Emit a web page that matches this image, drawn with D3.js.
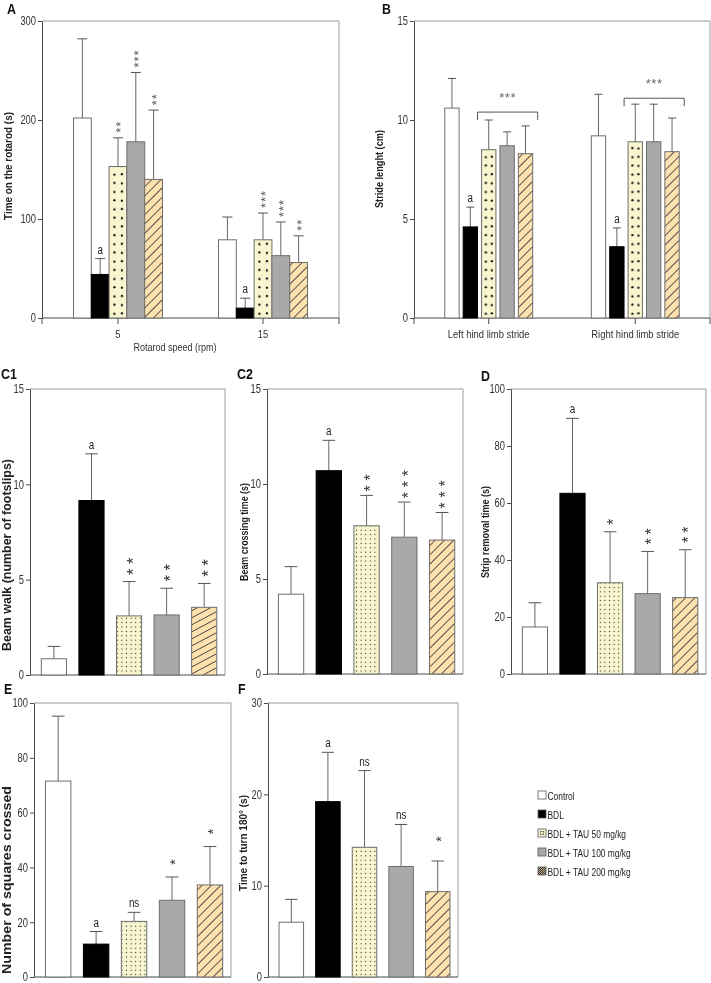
<!DOCTYPE html>
<html><head><meta charset="utf-8">
<script src="https://cdn.jsdelivr.net/npm/d3@7"></script>
<style>
body{margin:0;background:#fff}
svg{display:block;will-change:transform}
text{font-family:"Liberation Sans",Arial,sans-serif;}
</style>
</head><body>
<svg id="c" width="711" height="983"></svg>
<script>
// ---------------- DATA ----------------
const groupNames = ["Control", "BDL", "BDL + TAU 50 mg/kg", "BDL + TAU 100 mg/kg", "BDL + TAU 200 mg/kg"];

// A: rotarod
const rotarodSpeeds = ["5", "15"];
const rotarodMean = [[202, 44, 153, 178, 140], [79, 10, 79, 63, 56]];
const rotarodErr  = [[80, 16, 29, 70, 70], [23, 10, 27, 34, 27]];
const rotarodMarks = [["", "a", "**", "***", "**"], ["", "a", "***", "***", "**"]];
const rotarodTicks = [0, 100, 200, 300];

// B: stride length
const strideLimbs = ["Left hind limb stride", "Right hind limb stride"];
const strideMean = [[10.6, 4.6, 8.5, 8.7, 8.3], [9.2, 3.6, 8.9, 8.9, 8.4]];
const strideErr  = [[1.5, 1.0, 1.5, 0.7, 1.4], [2.1, 0.95, 1.9, 1.9, 1.7]];
const strideMarks = [["", "a", "", "", ""], ["", "a", "", "", ""]];
const strideBracketLevel = [10.4, 11.1];
const strideBracketLabel = ["***", "***"];
const strideTicks = [0, 5, 10, 15];

// C1: beam walk footslips
const footslipMean = [0.85, 9.15, 3.1, 3.15, 3.55];
const footslipErr  = [0.65, 2.45, 1.8, 1.4, 1.25];
const footslipMarks = ["", "a", "**", "**", "**"];
const footslipTicks = [0, 5, 10, 15];

// C2: beam crossing time
const crossingMean = [4.2, 10.7, 7.8, 7.2, 7.05];
const crossingErr  = [1.45, 1.6, 1.6, 1.85, 1.45];
const crossingMarks = ["", "a", "**", "***", "***"];
const crossingTicks = [0, 5, 10, 15];

// D: strip removal time
const stripMean = [16.5, 63.4, 32, 28.2, 26.8];
const stripErr  = [8.5, 26.3, 17.9, 14.8, 16.8];
const stripMarks = ["", "a", "*", "**", "**"];
const stripTicks = [0, 20, 40, 60, 80, 100];

// E: squares crossed
const squaresMean = [71.5, 12, 20.3, 28, 33.6];
const squaresErr  = [23.7, 4.6, 3.3, 8.5, 14];
const squaresMarks = ["", "a", "ns", "*", "*"];
const squaresTicks = [0, 20, 40, 60, 80, 100];

// F: time to turn 180°
const turnMean = [6, 19.2, 14.2, 12.1, 9.35];
const turnErr  = [2.5, 5.4, 8.4, 4.6, 3.35];
const turnMarks = ["", "a", "ns", "ns", "*"];
const turnTicks = [0, 10, 20, 30];

// ---------------- STYLE ----------------
const axisCol = "#4a4a4a", frameCol = "#9a9a9a", textCol = "#333";
const yellow = "#f8f5cf", grey = "#a9a9a9", orange = "#fde2b0";
const COND = 0.8;

const svg = d3.select("#c");
const defs = svg.append("defs");

// horizontally condense a text (Myriad-condensed look)
function cond(sel, f) {
  sel.each(function () {
    const L = this.getComputedTextLength();
    this.setAttribute("textLength", (L * (f || COND)).toFixed(2));
    this.setAttribute("lengthAdjust", "spacingAndGlyphs");
  });
  return sel;
}

// small dots pattern
const sd = defs.append("pattern").attr("id", "smallDots").attr("patternUnits", "userSpaceOnUse")
  .attr("width", 4.6).attr("height", 4.4);
sd.append("rect").attr("width", 4.6).attr("height", 4.4).attr("fill", yellow);
sd.append("circle").attr("cx", 2.3).attr("cy", 2.2).attr("r", 0.6).attr("fill", "#222");

function hatch(id, angle, gap) {
  const p = defs.append("pattern").attr("id", id).attr("patternUnits", "userSpaceOnUse")
    .attr("width", gap).attr("height", gap).attr("patternTransform", `rotate(${angle})`);
  p.append("rect").attr("width", gap).attr("height", gap).attr("fill", orange);
  p.append("line").attr("x1", gap / 2).attr("x2", gap / 2).attr("y1", 0).attr("y2", gap)
    .attr("stroke", "#333").attr("stroke-width", 0.8);
}
hatch("hatch45", 45, 6.6);
hatch("hatchLow", 62, 6.2);

// checker for legend swatch
const ck = defs.append("pattern").attr("id", "checker").attr("patternUnits", "userSpaceOnUse")
  .attr("width", 2).attr("height", 2);
ck.append("rect").attr("width", 2).attr("height", 2).attr("fill", "#cdb68a");
ck.append("rect").attr("width", 1).attr("height", 1).attr("fill", "#2a2a2a");
ck.append("rect").attr("x", 1).attr("y", 1).attr("width", 1).attr("height", 1).attr("fill", "#2a2a2a");

let bigDotCount = 0;
function bigDots(x, w, yBase) {
  const id = "bigDots" + (bigDotCount++);
  const p = defs.append("pattern").attr("id", id).attr("patternUnits", "userSpaceOnUse")
    .attr("x", x).attr("y", yBase).attr("width", w).attr("height", 17.4);
  p.append("rect").attr("width", w).attr("height", 17.4).attr("fill", yellow);
  [[0.3, 4], [0.72, 12.7], [0.3, 13.2], [0.72, 4.5]].forEach(d =>
    p.append("circle").attr("cx", w * d[0]).attr("cy", d[1]).attr("r", 1.15).attr("fill", "#111"));
  return `url(#${id})`;
}

function frame(g, x0, x1, y0, y1) {
  g.append("line").attr("x1", x0).attr("x2", x1).attr("y1", y1).attr("y2", y1).attr("stroke", frameCol);
  g.append("line").attr("x1", x1).attr("x2", x1).attr("y1", y1).attr("y2", y0).attr("stroke", frameCol);
  g.append("line").attr("x1", x0).attr("x2", x1).attr("y1", y0).attr("y2", y0).attr("stroke", axisCol);
}

function yAxis(g, y, x0, ticks) {
  const ax = g.append("g").attr("transform", `translate(${x0},0)`)
    .call(d3.axisLeft(y).tickValues(ticks).tickSize(4).tickSizeOuter(0).tickPadding(2));
  ax.select(".domain").attr("stroke", axisCol);
  ax.selectAll(".tick line").attr("stroke", axisCol);
  ax.selectAll(".tick text").attr("font-size", 12).attr("fill", textCol)
    .style("font-family", '"Liberation Sans",Arial,sans-serif');
  cond(ax.selectAll(".tick text"), 0.78);
}

function title(t, x, y) {
  const s = svg.append("text").attr("x", x).attr("y", y).attr("font-size", 15.5).attr("font-weight", "bold")
    .attr("fill", "#111").text(t);
  cond(s, 0.8);
}
function ylabel(t, x, yc, len, fs) {
  svg.append("text").attr("transform", `translate(${x},${yc}) rotate(-90)`).attr("text-anchor", "middle")
    .attr("dy", "0.36em").attr("font-size", fs).attr("font-weight", "bold").attr("fill", "#222")
    .attr("textLength", len).attr("lengthAdjust", "spacingAndGlyphs").text(t);
}

// vertical stack of asterisks drawn as one rotated text; lowest star centred at (cx, yc)
function stars(g, cx, yc, n, fs, spacing, col) {
  const adv = 0.389 * fs;
  g.append("text")
    .attr("transform", `translate(${cx + 0.575 * fs},${yc + adv / 2}) rotate(-90)`)
    .attr("font-size", fs).attr("fill", col || "#333")
    .attr("letter-spacing", spacing - adv).text("*".repeat(n));
}
function mark(g, m, cx, capY, o) {
  if (!m) return;
  if (m[0] === "*") stars(g, cx, capY - o.gap, m.length, o.fs, o.sp, o.col);
  else cond(g.append("text").attr("x", cx).attr("y", capY - 5).attr("text-anchor", "middle")
    .attr("font-size", 12).attr("fill", "#222").text(m), 0.82);
}

function bar(g, i, x, w, y, yv, ev, y0, fill, capW) {
  const top = y(yv), cap = y(yv + ev);
  g.append("line").attr("x1", x + w / 2).attr("x2", x + w / 2).attr("y1", top).attr("y2", cap)
    .attr("stroke", "#666");
  g.append("line").attr("x1", x + w / 2 - capW / 2).attr("x2", x + w / 2 + capW / 2)
    .attr("y1", cap).attr("y2", cap).attr("stroke", "#555");
  g.append("rect").attr("x", x).attr("y", top).attr("width", w).attr("height", y0 - top)
    .attr("fill", fill).attr("stroke", i === 1 ? "#000" : "#6e6e6e").attr("stroke-width", 1);
  return cap;
}

// ---------------- GROUPED PANELS (A, B) ----------------
function groupedPanel(o) {
  const g = svg.append("g");
  const y = d3.scaleLinear().domain([0, o.max]).range([o.y0, o.y1]);
  const xo = d3.scaleBand().domain(o.cats).range([o.x0, o.x1]).paddingInner(o.pi).paddingOuter(o.po);
  const xi = d3.scaleBand().domain(d3.range(5)).range([0, xo.bandwidth()]).paddingInner(o.inner);
  frame(g, o.x0, o.x1, o.y0, o.y1);
  const xt = [o.x0, o.x1].concat(o.cats.map(c => xo(c) + xo.bandwidth() / 2));
  xt.forEach(v => g.append("line").attr("x1", v).attr("x2", v).attr("y1", o.y0).attr("y2", o.y0 + 6).attr("stroke", axisCol));
  o.cats.forEach(c => cond(g.append("text").attr("x", xo(c) + xo.bandwidth() / 2).attr("y", o.y0 + 20)
    .attr("text-anchor", "middle").attr("font-size", 11.5).attr("fill", textCol).text(c), 0.82));
  yAxis(g, y, o.x0, o.ticks);
  o.cats.forEach((c, ci) => {
    d3.range(5).forEach(i => {
      const x = xo(c) + xi(i), w = xi.bandwidth();
      const fill = ["#fff", "#000", bigDots(x, w, o.y0), grey, "url(#hatch45)"][i];
      const cap = bar(g, i, x, w, y, o.mean[ci][i], o.err[ci][i], o.y0, fill, o.capW);
      mark(g, o.marks[ci][i], x + w / 2, cap, { gap: 7.5, fs: 13, sp: 6, col: "#555" });
    });
    if (o.bracket) {
      const bx0 = xo(c) + xi(2) - 4, bx1 = xo(c) + xi(4) + xi.bandwidth() + 5, by = y(o.bracket[ci]);
      g.append("path").attr("d", `M${bx0},${by + 8}V${by}H${bx1}V${by + 8}`).attr("fill", "none").attr("stroke", "#555");
      g.append("text").attr("x", (bx0 + bx1) / 2).attr("y", by - 10).attr("text-anchor", "middle")
        .attr("font-size", 13).attr("fill", "#666").attr("letter-spacing", 0.6).text(o.bracketLabel[ci]);
    }
  });
}

groupedPanel({ cats: rotarodSpeeds, mean: rotarodMean, err: rotarodErr, marks: rotarodMarks, ticks: rotarodTicks,
  max: 300, x0: 42, x1: 339, y0: 318, y1: 21, pi: 0.386, po: 0.217, inner: 0, capW: 10 });
title("A", 7, 14);
ylabel("Time on the rotarod (s)", 8, 166, 108, 11.5);
cond(svg.append("text").attr("x", 175).attr("y", 351).attr("text-anchor", "middle").attr("font-size", 11)
  .attr("fill", textCol).text("Rotarod speed (rpm)"), 0.82);

groupedPanel({ cats: strideLimbs, mean: strideMean, err: strideErr, marks: strideMarks, ticks: strideTicks,
  max: 15, x0: 414, x1: 710, y0: 318, y1: 21, pi: 0.4, po: 0.21, inner: 0.22, capW: 8,
  bracket: strideBracketLevel, bracketLabel: strideBracketLabel });
title("B", 382, 14);
ylabel("Stride lenght (cm)", 379, 169, 78, 11.5);

// ---------------- SIMPLE PANELS ----------------
function simplePanel(o) {
  const g = svg.append("g");
  const y = d3.scaleLinear().domain([0, o.max]).range([o.y0, o.y1]);
  const x = d3.scaleBand().domain(groupNames).range([o.x0, o.x1]).paddingInner(0.33).paddingOuter(0.26).align(0.58);
  frame(g, o.x0, o.x1, o.y0, o.y1);
  yAxis(g, y, o.x0, o.ticks);
  const fills = ["#fff", "#000", "url(#smallDots)", grey, `url(#${o.hatch || "hatch45"})`];
  groupNames.forEach((n, i) => {
    const w = x.bandwidth();
    const cap = bar(g, i, x(n), w, y, o.mean[i], o.err[i], o.y0, fills[i], w * 0.5);
    mark(g, o.marks[i], x(n) + w / 2, cap, { gap: o.gap, fs: o.fs, sp: o.sp, col: "#333" });
  });
}

simplePanel({ mean: footslipMean, err: footslipErr, marks: footslipMarks, ticks: footslipTicks, max: 15,
  x0: 30, x1: 225, y0: 675, y1: 389, gap: 10, fs: 17, sp: 11, hatch: "hatchLow" });
title("C1", 1, 379);
ylabel("Beam walk (number of footslips)", 7, 555, 192, 12);

simplePanel({ mean: crossingMean, err: crossingErr, marks: crossingMarks, ticks: crossingTicks, max: 15,
  x0: 267, x1: 463, y0: 674, y1: 389, gap: 7, fs: 16, sp: 11 });
title("C2", 237, 379);
ylabel("Beam crossing time (s)", 244, 532, 98, 11.5);

simplePanel({ mean: stripMean, err: stripErr, marks: stripMarks, ticks: stripTicks, max: 100,
  x0: 511, x1: 706, y0: 674, y1: 389, gap: 10, fs: 16, sp: 10 });
title("D", 481, 381);
ylabel("Strip removal time (s)", 485, 532, 92, 11.5);

simplePanel({ mean: squaresMean, err: squaresErr, marks: squaresMarks, ticks: squaresTicks, max: 100,
  x0: 34, x1: 231, y0: 977, y1: 703, gap: 15, fs: 14, sp: 10 });
title("E", 4, 694);
ylabel("Number of squares crossed", 7, 880, 188, 12);

simplePanel({ mean: turnMean, err: turnErr, marks: turnMarks, ticks: turnTicks, max: 30,
  x0: 268, x1: 458, y0: 977, y1: 703, gap: 22, fs: 14, sp: 10 });
title("F", 238, 694);
ylabel("Time to turn 180° (s)", 243, 843, 96, 11.5);

// ---------------- LEGEND ----------------
const legendFills = ["#fff", "#000", yellow, grey, "url(#checker)"];
const lg = svg.append("g").attr("transform", "translate(538,791)");
groupNames.forEach((n, i) => {
  const row = lg.append("g").attr("transform", `translate(0,${i * 19})`);
  row.append("rect").attr("width", 8).attr("height", 8).attr("fill", legendFills[i]).attr("stroke", "#555").attr("stroke-width", 0.8);
  if (i === 2) row.append("rect").attr("x", 2.3).attr("y", 2.3).attr("width", 3.4).attr("height", 3.4)
    .attr("fill", "none").attr("stroke", "#555").attr("stroke-width", 0.6);
  cond(row.append("text").attr("x", 9.5).attr("y", 8.5).attr("font-size", 10.5).attr("fill", "#222").text(n), 0.8);
});
</script>
</body></html>
